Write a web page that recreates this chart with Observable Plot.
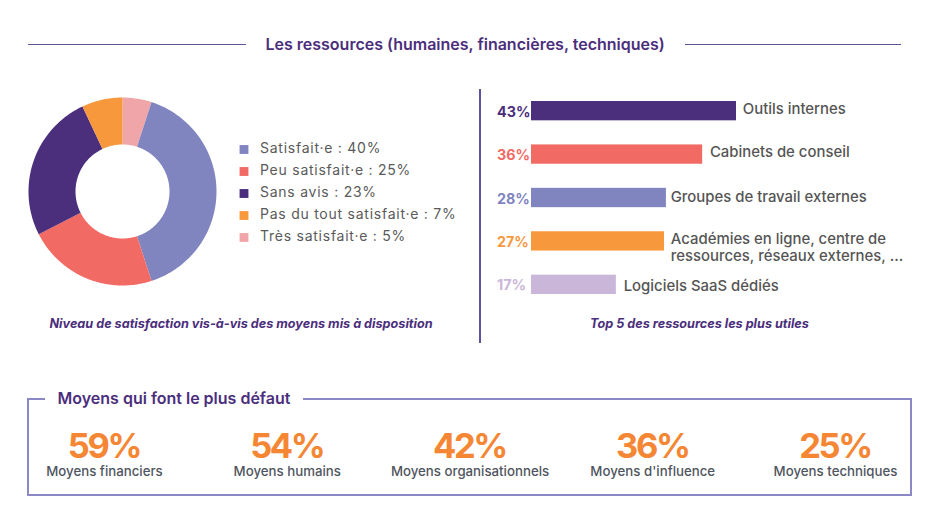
<!DOCTYPE html>
<html lang="fr">
<head>
<meta charset="utf-8">
<script src="https://cdn.jsdelivr.net/npm/d3@7"></script>
<script src="https://cdn.jsdelivr.net/npm/@observablehq/plot@0.6"></script>
<style>
  html, body { margin: 0; padding: 0; background: #fff; }
  #page { position: relative; width: 946px; height: 523px; overflow: hidden; font-family: Inter, sans-serif; }
  #page > * { position: absolute; }
  .rule { background: #5f5499; height: 1.3px; }
  .heading { font-weight: 600; font-size: 16px; color: #4b2e7c; white-space: nowrap; }
  .caption { font-weight: 700; font-style: italic; font-size: 12.65px; color: #4b2e7c; white-space: nowrap; transform: translateX(-50%); }
  .box { background: #8c87c6; }
  svg { background: transparent !important; }
</style>
</head>
<body>
<div id="page">
  <div class="rule" style="left:28px;top:44px;width:218px"></div>
  <div class="rule" style="left:685px;top:44px;width:216px"></div>
  <div class="heading" style="left:265.5px;top:34px">Les ressources (humaines, financières, techniques)</div>
  <div class="caption" style="left:241px;top:316px">Niveau de satisfaction vis-à-vis des moyens mis à disposition</div>
  <div class="caption" style="left:699.5px;top:316px">Top 5 des ressources les plus utiles</div>
  <div class="rule" style="left:479px;top:89px;width:1.5px;height:254px"></div>

  <div class="box" style="left:27px;top:398px;width:18px;height:2px"></div>
  <div class="box" style="left:303px;top:398px;width:609px;height:2px"></div>
  <div class="box" style="left:27px;top:398px;width:2px;height:98px"></div>
  <div class="box" style="left:910px;top:398px;width:2px;height:98px"></div>
  <div class="box" style="left:27px;top:494px;width:885px;height:2px"></div>
  <div class="heading" style="left:57.5px;top:388px">Moyens qui font le plus défaut</div>
</div>
<script>
// Donut: names and the labels printed in the legend
const satisfactionNames = ["Satisfait·e", "Peu satisfait·e", "Sans avis", "Pas du tout satisfait·e", "Très satisfait·e"];
const satisfactionLabels = [40, 25, 23, 7, 5];
const satisfactionColors = ["#8085c0", "#f26a64", "#4b2e7c", "#f8983c", "#f0a6a8"];
// Slice sizes as drawn in the picture (clockwise from the top)
const sliceNames = ["Très satisfait·e", "Satisfait·e", "Peu satisfait·e", "Sans avis", "Pas du tout satisfait·e"];
const sliceValues = [5, 40, 22.5, 25.5, 7];

// Bars
const resourceNames = ["Outils internes", "Cabinets de conseil", "Groupes de travail externes", "Académies en ligne, centre de\nressources, réseaux externes, ...", "Logiciels SaaS dédiés"];
const resourceLabels = [43, 36, 28, 27, 17];
const resourceBars = [43, 35.9, 28.3, 27.9, 17.8];
const resourceColors = ["#4b2e7c", "#f26a64", "#8085c0", "#f8983c", "#c9b6d9"];

// Bottom figures
const gapNames = ["Moyens financiers", "Moyens humains", "Moyens organisationnels", "Moyens d'influence", "Moyens techniques"];
const gapValues = [59, 54, 42, 36, 25];

const page = document.getElementById("page");
function place(node, left, top) {
  node.style.position = "absolute";
  node.style.left = left + "px";
  node.style.top = top + "px";
  page.appendChild(node);
}

// ---- Donut ----
const pieArcs = d3.pie().sort(null).value(d => d.value)(sliceNames.map((name, i) => ({name, value: sliceValues[i]})));
const outerRadius = 1, innerRadius = 0.5;
const arcFeatures = pieArcs.map(a => {
  const steps = Math.ceil((a.endAngle - a.startAngle) / 0.02);
  const angles = d3.range(steps + 1).map(k => a.startAngle + (a.endAngle - a.startAngle) * k / steps);
  const outer = angles.map(t => [outerRadius * Math.sin(t), outerRadius * Math.cos(t)]);
  const inner = angles.slice().reverse().map(t => [innerRadius * Math.sin(t), innerRadius * Math.cos(t)]);
  const ring = [...outer, ...inner, outer[0]];
  return {type: "Feature", properties: {name: a.data.name}, geometry: {type: "Polygon", coordinates: [ring]}};
});
const pad = 100 / 94;
place(Plot.plot({
  width: 200, height: 200, margin: 0,
  projection: {type: "reflect-y", domain: {type: "MultiPoint", coordinates: [[-pad, -pad], [pad, pad]]}},
  color: {domain: satisfactionNames, range: satisfactionColors},
  marks: [Plot.geo(arcFeatures, {fill: d => d.properties.name, stroke: "none"})]
}), 22, 91);

// ---- Legend ----
const legendRows = satisfactionNames.map((name, i) => ({name, text: `${name} : ${satisfactionLabels[i]}%`}));
place(Plot.plot({
  width: 240, height: 116, margin: 0,
  style: {background: "transparent", letterSpacing: "0.75px"},
  y: {type: "point", domain: satisfactionNames, range: [13, 103], padding: 0, axis: null, label: null},
  color: {domain: satisfactionNames, range: satisfactionColors},
  marks: [
    Plot.dot(legendRows, {y: "name", fill: "name", symbol: "square", r: 5, frameAnchor: "left", dx: 11.5}),
    Plot.text(legendRows, {y: "name", text: "text", frameAnchor: "left", textAnchor: "start", dx: 27.5, dy: -0.5, fill: "#5a5a5a", fontSize: 14, fontFamily: "Inter, sans-serif"})
  ]
}), 232, 135);

// ---- Bars ----
const resourceRows = resourceNames.map((name, i) => ({name, bar: resourceBars[i], pct: resourceLabels[i] + "%"}));
const labelNudges = [[6.3, -2.5, "middle"], [7.3, -3.5, "middle"], [4.3, -2, "middle"], [6.3, -10.5, "top"], [7.3, 0.5, "middle"]];
place(Plot.plot({
  width: 476, height: 260, margin: 0,
  style: {background: "transparent"},
  x: {domain: [0, 43], range: [61, 266], axis: null},
  y: {type: "band", domain: resourceNames, range: [13, 206], paddingInner: 0.555, paddingOuter: 0, round: false, axis: null, label: null},
  color: {domain: resourceNames, range: resourceColors},
  marks: [
    Plot.barX(resourceRows, {x: "bar", y: "name", fill: "name"}),
    Plot.text(resourceRows, {x: 0, y: "name", text: "pct", fill: "name", textAnchor: "start", dx: -34.5, dy: 1, fontSize: 14.3, fontWeight: 700, fontVariant: "normal", fontFamily: "Inter, sans-serif"}),
    ...resourceRows.map((row, i) => Plot.text([row], {
      x: "bar", y: "name", text: "name", textAnchor: "start",
      dx: labelNudges[i][0], dy: labelNudges[i][1], lineAnchor: labelNudges[i][2],
      lineHeight: 1.2, fill: "#555555", fontSize: 14.9, fontWeight: 500, fontFamily: "Inter, sans-serif"
    }))
  ]
}), 470, 88);

// ---- Bottom figures ----
const gapRows = gapNames.map((name, i) => ({name, pct: gapValues[i] + "%"}));
place(Plot.plot({
  width: 946, height: 80, margin: 0,
  style: {background: "transparent"},
  x: {type: "band", domain: gapNames, range: [12.6, 926.4], padding: 0, round: false, axis: null, label: null},
  marks: [
    Plot.text(gapRows, {
      x: "name", text: "pct", frameAnchor: "top", lineAnchor: "bottom", dx: -0.5, dy: 47.5, fill: "#f58634", fontSize: 34.5, fontWeight: 700, fontVariant: "normal", fontFamily: "Inter, sans-serif",
      render: (index, scales, values, dimensions, context, next) => {
        const g = next(index, scales, values, dimensions, context);
        g.style.letterSpacing = "-2.4px";
        return g;
      }
    }),
    Plot.text(gapRows, {x: "name", text: "name", frameAnchor: "top", lineAnchor: "middle", dy: 61, fill: "#4f5560", fontSize: 13.25, fontWeight: 500, fontFamily: "Inter, sans-serif"})
  ]
}), 0, 410);
</script>
</body>
</html>
